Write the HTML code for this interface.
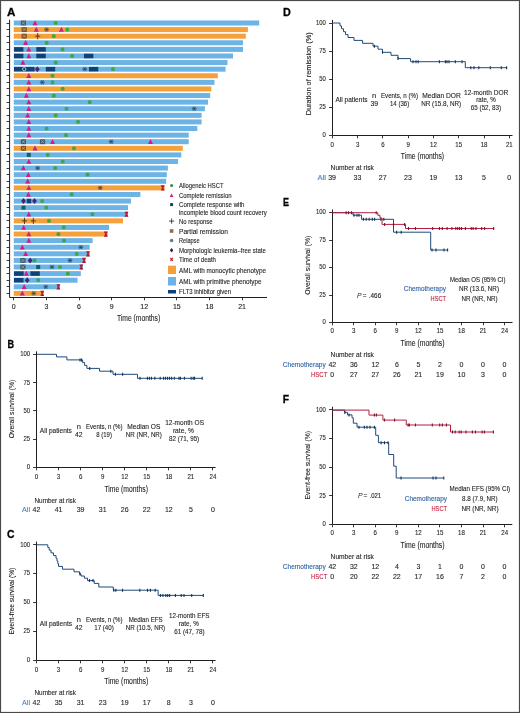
<!DOCTYPE html><html><head><meta charset="utf-8"><style>html,body{margin:0;padding:0;background:#fff;}svg{display:block;font-family:"Liberation Sans",sans-serif;will-change:transform;}</style></head><body>
<svg width="520" height="713" viewBox="0 0 520 713">
<rect x="0" y="0" width="520" height="713" fill="#fff"/>
<text x="6.90" y="16.40" font-size="11.8" fill="#000" textLength="8.40" lengthAdjust="spacingAndGlyphs" font-weight="bold" stroke="#000" stroke-width="0.3">A</text>
<rect x="13.8" y="20.50" width="245.40" height="5.0" fill="#6cb3e6"/>
<rect x="13.8" y="27.09" width="234.10" height="5.0" fill="#f6a03c"/>
<rect x="13.8" y="33.69" width="232.00" height="5.0" fill="#f6a03c"/>
<rect x="13.8" y="40.28" width="229.20" height="5.0" fill="#6cb3e6"/>
<rect x="13.8" y="46.88" width="229.20" height="5.0" fill="#6cb3e6"/>
<rect x="13.8" y="53.48" width="219.20" height="5.0" fill="#6cb3e6"/>
<rect x="13.8" y="60.07" width="213.70" height="5.0" fill="#6cb3e6"/>
<rect x="13.8" y="66.66" width="211.80" height="5.0" fill="#6cb3e6"/>
<rect x="13.8" y="73.26" width="204.00" height="5.0" fill="#f6a03c"/>
<rect x="13.8" y="79.85" width="200.70" height="5.0" fill="#6cb3e6"/>
<rect x="13.8" y="86.45" width="197.50" height="5.0" fill="#f6a03c"/>
<rect x="13.8" y="93.05" width="196.40" height="5.0" fill="#6cb3e6"/>
<rect x="13.8" y="99.64" width="194.20" height="5.0" fill="#6cb3e6"/>
<rect x="13.8" y="106.23" width="191.10" height="5.0" fill="#6cb3e6"/>
<rect x="13.8" y="112.83" width="187.80" height="5.0" fill="#6cb3e6"/>
<rect x="13.8" y="119.42" width="187.80" height="5.0" fill="#6cb3e6"/>
<rect x="13.8" y="126.02" width="183.50" height="5.0" fill="#6cb3e6"/>
<rect x="13.8" y="132.62" width="174.90" height="5.0" fill="#6cb3e6"/>
<rect x="13.8" y="139.21" width="174.90" height="5.0" fill="#6cb3e6"/>
<rect x="13.8" y="145.81" width="169.00" height="5.0" fill="#f6a03c"/>
<rect x="13.8" y="152.40" width="167.50" height="5.0" fill="#6cb3e6"/>
<rect x="13.8" y="159.00" width="164.30" height="5.0" fill="#6cb3e6"/>
<rect x="13.8" y="165.59" width="154.10" height="5.0" fill="#6cb3e6"/>
<rect x="13.8" y="172.19" width="153.00" height="5.0" fill="#6cb3e6"/>
<rect x="13.8" y="178.78" width="152.40" height="5.0" fill="#6cb3e6"/>
<rect x="13.8" y="185.38" width="150.80" height="5.0" fill="#f6a03c"/>
<rect x="13.8" y="191.97" width="126.60" height="5.0" fill="#6cb3e6"/>
<rect x="13.8" y="198.56" width="117.20" height="5.0" fill="#6cb3e6"/>
<rect x="13.8" y="205.16" width="114.20" height="5.0" fill="#6cb3e6"/>
<rect x="13.8" y="211.75" width="114.10" height="5.0" fill="#6cb3e6"/>
<rect x="13.8" y="218.35" width="109.20" height="5.0" fill="#f6a03c"/>
<rect x="13.8" y="224.94" width="95.20" height="5.0" fill="#6cb3e6"/>
<rect x="13.8" y="231.54" width="93.90" height="5.0" fill="#f6a03c"/>
<rect x="13.8" y="238.13" width="78.80" height="5.0" fill="#6cb3e6"/>
<rect x="13.8" y="244.73" width="75.90" height="5.0" fill="#6cb3e6"/>
<rect x="13.8" y="251.32" width="75.90" height="5.0" fill="#6cb3e6"/>
<rect x="13.8" y="257.92" width="71.80" height="5.0" fill="#6cb3e6"/>
<rect x="13.8" y="264.51" width="69.10" height="5.0" fill="#6cb3e6"/>
<rect x="13.8" y="271.11" width="67.00" height="5.0" fill="#6cb3e6"/>
<rect x="13.8" y="277.70" width="63.70" height="5.0" fill="#6cb3e6"/>
<rect x="13.8" y="284.30" width="46.00" height="5.0" fill="#6cb3e6"/>
<rect x="13.8" y="290.89" width="29.80" height="5.0" fill="#f6a03c"/>
<rect x="20.80" y="20.50" width="5.2" height="5" fill="#1a1005" fill-opacity="0.55"/>
<path d="M21.70 21.40 L25.10 24.60 M25.10 21.40 L21.70 24.60" stroke="#ffffff" stroke-opacity="0.4" stroke-width="0.9"/>
<path d="M35.00 20.20 L37.50 25.20 L32.50 25.20 Z" fill="#cf1f86"/>
<rect x="53.85" y="21.15" width="3.7" height="3.7" rx="1.2" fill="#3aa84a"/>
<rect x="21.60" y="27.09" width="5.2" height="5" fill="#1a1005" fill-opacity="0.55"/>
<path d="M22.50 27.99 L25.90 31.20 M25.90 27.99 L22.50 31.20" stroke="#ffffff" stroke-opacity="0.4" stroke-width="0.9"/>
<path d="M36.30 26.79 L38.80 31.79 L33.80 31.79 Z" fill="#cf1f86"/>
<circle cx="46.60" cy="29.59" r="2.1" fill="#2a3c50" fill-opacity="0.3"/>
<path d="M44.00 29.59 H49.20 M45.17 27.38 L48.03 31.80 M48.03 27.38 L45.17 31.80" stroke="#1a2a3a" stroke-opacity="0.5" stroke-width="0.9"/>
<path d="M61.40 26.79 L63.90 31.79 L58.90 31.79 Z" fill="#cf1f86"/>
<rect x="65.45" y="27.74" width="3.7" height="3.7" rx="1.2" fill="#3aa84a"/>
<rect x="21.60" y="33.69" width="5.2" height="5" fill="#1a1005" fill-opacity="0.55"/>
<path d="M22.50 34.59 L25.90 37.79 M25.90 34.59 L22.50 37.79" stroke="#ffffff" stroke-opacity="0.4" stroke-width="0.9"/>
<path d="M35.20 36.19 H40.20 M37.70 32.99 V39.39" stroke="#3a2410" stroke-width="0.8"/>
<rect x="51.95" y="34.34" width="3.7" height="3.7" rx="1.2" fill="#3aa84a"/>
<path d="M25.60 39.98 L28.10 44.98 L23.10 44.98 Z" fill="#cf1f86"/>
<rect x="44.75" y="40.93" width="3.7" height="3.7" rx="1.2" fill="#3aa84a"/>
<rect x="14.00" y="47.13" width="9.40" height="4.5" fill="#10427a"/>
<rect x="36.30" y="47.13" width="9.50" height="4.5" fill="#10427a"/>
<path d="M28.80 46.58 L31.30 51.58 L26.30 51.58 Z" fill="#cf1f86"/>
<rect x="60.65" y="47.53" width="3.7" height="3.7" rx="1.2" fill="#3aa84a"/>
<rect x="14.00" y="53.73" width="9.40" height="4.5" fill="#10427a"/>
<rect x="36.30" y="53.73" width="9.50" height="4.5" fill="#10427a"/>
<rect x="84.00" y="53.73" width="9.40" height="4.5" fill="#10427a"/>
<path d="M28.80 53.18 L31.30 58.18 L26.30 58.18 Z" fill="#cf1f86"/>
<rect x="70.35" y="54.12" width="3.7" height="3.7" rx="1.2" fill="#3aa84a"/>
<path d="M22.90 59.77 L25.40 64.77 L20.40 64.77 Z" fill="#cf1f86"/>
<rect x="53.85" y="60.72" width="3.7" height="3.7" rx="1.2" fill="#3aa84a"/>
<rect x="14.00" y="66.91" width="20.60" height="4.5" fill="#10427a"/>
<rect x="45.80" y="66.91" width="9.40" height="4.5" fill="#10427a"/>
<rect x="88.90" y="66.91" width="9.40" height="4.5" fill="#10427a"/>
<circle cx="24.20" cy="69.16" r="1.7" fill="none" stroke="#d0d8e0" stroke-width="0.8"/>
<path d="M37.30 66.16 L39.70 69.16 L37.30 72.16 L34.90 69.16 Z" fill="#4a2470"/>
<circle cx="84.80" cy="69.16" r="2.1" fill="#2a3c50" fill-opacity="0.3"/>
<path d="M82.20 69.16 H87.40 M83.37 66.95 L86.23 71.37 M86.23 66.95 L83.37 71.37" stroke="#1a2a3a" stroke-opacity="0.5" stroke-width="0.9"/>
<rect x="111.15" y="67.31" width="3.7" height="3.7" rx="1.2" fill="#3aa84a"/>
<path d="M28.80 72.96 L31.30 77.96 L26.30 77.96 Z" fill="#cf1f86"/>
<rect x="50.65" y="73.91" width="3.7" height="3.7" rx="1.2" fill="#3aa84a"/>
<path d="M28.80 79.55 L31.30 84.55 L26.30 84.55 Z" fill="#cf1f86"/>
<circle cx="42.30" cy="82.35" r="2.1" fill="#2a3c50" fill-opacity="0.3"/>
<path d="M39.70 82.35 H44.90 M40.87 80.14 L43.73 84.56 M43.73 80.14 L40.87 84.56" stroke="#1a2a3a" stroke-opacity="0.5" stroke-width="0.9"/>
<rect x="50.65" y="80.50" width="3.7" height="3.7" rx="1.2" fill="#3aa84a"/>
<path d="M28.80 86.15 L31.30 91.15 L26.30 91.15 Z" fill="#cf1f86"/>
<rect x="60.85" y="87.10" width="3.7" height="3.7" rx="1.2" fill="#3aa84a"/>
<path d="M26.40 92.75 L28.90 97.75 L23.90 97.75 Z" fill="#cf1f86"/>
<rect x="51.95" y="93.70" width="3.7" height="3.7" rx="1.2" fill="#3aa84a"/>
<path d="M28.80 99.34 L31.30 104.34 L26.30 104.34 Z" fill="#cf1f86"/>
<rect x="87.85" y="100.29" width="3.7" height="3.7" rx="1.2" fill="#3aa84a"/>
<path d="M28.80 105.94 L31.30 110.94 L26.30 110.94 Z" fill="#cf1f86"/>
<rect x="64.65" y="106.89" width="3.7" height="3.7" rx="1.2" fill="#3aa84a"/>
<circle cx="194.20" cy="108.73" r="2.1" fill="#2a3c50" fill-opacity="0.3"/>
<path d="M191.60 108.73 H196.80 M192.77 106.53 L195.63 110.94 M195.63 106.53 L192.77 110.94" stroke="#1a2a3a" stroke-opacity="0.5" stroke-width="0.9"/>
<path d="M27.70 112.53 L30.20 117.53 L25.20 117.53 Z" fill="#cf1f86"/>
<rect x="53.85" y="113.48" width="3.7" height="3.7" rx="1.2" fill="#3aa84a"/>
<path d="M28.80 119.12 L31.30 124.12 L26.30 124.12 Z" fill="#cf1f86"/>
<rect x="76.15" y="120.08" width="3.7" height="3.7" rx="1.2" fill="#3aa84a"/>
<path d="M28.80 125.72 L31.30 130.72 L26.30 130.72 Z" fill="#cf1f86"/>
<rect x="44.75" y="126.67" width="3.7" height="3.7" rx="1.2" fill="#3aa84a"/>
<path d="M28.80 132.31 L31.30 137.31 L26.30 137.31 Z" fill="#cf1f86"/>
<rect x="64.15" y="133.27" width="3.7" height="3.7" rx="1.2" fill="#3aa84a"/>
<rect x="20.80" y="139.21" width="5.2" height="5" fill="#1a1005" fill-opacity="0.55"/>
<path d="M21.70 140.11 L25.10 143.31 M25.10 140.11 L21.70 143.31" stroke="#ffffff" stroke-opacity="0.4" stroke-width="0.9"/>
<rect x="39.90" y="139.21" width="5.2" height="5" fill="#1a1005" fill-opacity="0.55"/>
<path d="M40.80 140.11 L44.20 143.31 M44.20 140.11 L40.80 143.31" stroke="#ffffff" stroke-opacity="0.4" stroke-width="0.9"/>
<path d="M52.50 138.91 L55.00 143.91 L50.00 143.91 Z" fill="#cf1f86"/>
<circle cx="111.20" cy="141.71" r="2.1" fill="#2a3c50" fill-opacity="0.3"/>
<path d="M108.60 141.71 H113.80 M109.77 139.50 L112.63 143.92 M112.63 139.50 L109.77 143.92" stroke="#1a2a3a" stroke-opacity="0.5" stroke-width="0.9"/>
<path d="M150.50 138.91 L153.00 143.91 L148.00 143.91 Z" fill="#cf1f86"/>
<rect x="20.80" y="145.81" width="5.2" height="5" fill="#1a1005" fill-opacity="0.55"/>
<path d="M21.70 146.71 L25.10 149.91 M25.10 146.71 L21.70 149.91" stroke="#ffffff" stroke-opacity="0.4" stroke-width="0.9"/>
<path d="M35.00 145.50 L37.50 150.50 L32.50 150.50 Z" fill="#cf1f86"/>
<rect x="72.15" y="146.46" width="3.7" height="3.7" rx="1.2" fill="#3aa84a"/>
<rect x="26.80" y="152.90" width="4" height="4" fill="#155e62"/>
<rect x="45.85" y="153.05" width="3.7" height="3.7" rx="1.2" fill="#3aa84a"/>
<path d="M28.80 158.69 L31.30 163.69 L26.30 163.69 Z" fill="#cf1f86"/>
<rect x="60.85" y="159.65" width="3.7" height="3.7" rx="1.2" fill="#3aa84a"/>
<path d="M23.40 165.29 L25.90 170.29 L20.90 170.29 Z" fill="#cf1f86"/>
<circle cx="37.70" cy="168.09" r="2.1" fill="#2a3c50" fill-opacity="0.3"/>
<path d="M35.10 168.09 H40.30 M36.27 165.88 L39.13 170.30 M39.13 165.88 L36.27 170.30" stroke="#1a2a3a" stroke-opacity="0.5" stroke-width="0.9"/>
<rect x="53.35" y="166.24" width="3.7" height="3.7" rx="1.2" fill="#3aa84a"/>
<path d="M28.30 171.88 L30.80 176.88 L25.80 176.88 Z" fill="#cf1f86"/>
<rect x="85.65" y="172.84" width="3.7" height="3.7" rx="1.2" fill="#3aa84a"/>
<path d="M27.70 178.48 L30.20 183.48 L25.20 183.48 Z" fill="#cf1f86"/>
<path d="M28.80 185.07 L31.30 190.07 L26.30 190.07 Z" fill="#cf1f86"/>
<circle cx="100.20" cy="187.88" r="2.1" fill="#2a3c50" fill-opacity="0.3"/>
<path d="M97.60 187.88 H102.80 M98.77 185.66 L101.63 190.09 M101.63 185.66 L98.77 190.09" stroke="#1a2a3a" stroke-opacity="0.5" stroke-width="0.9"/>
<path d="M160.70 185.28 H164.70 L163.40 187.88 L164.70 190.47 H160.70 L162.00 187.88 Z" fill="#b8182e"/>
<path d="M28.40 191.67 L30.90 196.67 L25.90 196.67 Z" fill="#cf1f86"/>
<rect x="69.85" y="192.62" width="3.7" height="3.7" rx="1.2" fill="#3aa84a"/>
<rect x="26.80" y="198.81" width="4.40" height="4.5" fill="#10427a"/>
<path d="M23.50 198.06 L25.90 201.06 L23.50 204.06 L21.10 201.06 Z" fill="#4a2470"/>
<path d="M34.50 198.06 L36.90 201.06 L34.50 204.06 L32.10 201.06 Z" fill="#4a2470"/>
<rect x="40.35" y="199.22" width="3.7" height="3.7" rx="1.2" fill="#3aa84a"/>
<rect x="21.50" y="205.66" width="4" height="4" fill="#155e62"/>
<rect x="44.45" y="205.81" width="3.7" height="3.7" rx="1.2" fill="#3aa84a"/>
<path d="M28.80 211.45 L31.30 216.45 L26.30 216.45 Z" fill="#cf1f86"/>
<rect x="90.55" y="212.41" width="3.7" height="3.7" rx="1.2" fill="#3aa84a"/>
<path d="M124.50 211.66 H128.50 L127.20 214.25 L128.50 216.85 H124.50 L125.80 214.25 Z" fill="#b8182e"/>
<path d="M22.00 220.85 H27.00 M24.50 217.65 V224.05" stroke="#3a2410" stroke-width="0.8"/>
<path d="M30.80 220.85 H35.80 M33.30 217.65 V224.05" stroke="#3a2410" stroke-width="0.8"/>
<rect x="47.15" y="219.00" width="3.7" height="3.7" rx="1.2" fill="#3aa84a"/>
<path d="M23.70 224.64 L26.20 229.64 L21.20 229.64 Z" fill="#cf1f86"/>
<rect x="61.95" y="225.59" width="3.7" height="3.7" rx="1.2" fill="#3aa84a"/>
<path d="M28.80 231.24 L31.30 236.24 L26.30 236.24 Z" fill="#cf1f86"/>
<rect x="56.55" y="232.19" width="3.7" height="3.7" rx="1.2" fill="#3aa84a"/>
<path d="M103.80 231.44 H107.80 L106.50 234.04 L107.80 236.64 H103.80 L105.10 234.04 Z" fill="#b8182e"/>
<path d="M28.80 237.83 L31.30 242.83 L26.30 242.83 Z" fill="#cf1f86"/>
<rect x="62.15" y="238.78" width="3.7" height="3.7" rx="1.2" fill="#3aa84a"/>
<path d="M22.30 244.43 L24.80 249.43 L19.80 249.43 Z" fill="#cf1f86"/>
<circle cx="80.80" cy="247.23" r="2.1" fill="#2a3c50" fill-opacity="0.3"/>
<path d="M78.20 247.23 H83.40 M79.37 245.02 L82.23 249.44 M82.23 245.02 L79.37 249.44" stroke="#1a2a3a" stroke-opacity="0.5" stroke-width="0.9"/>
<path d="M25.60 251.02 L28.10 256.02 L23.10 256.02 Z" fill="#cf1f86"/>
<rect x="74.85" y="251.97" width="3.7" height="3.7" rx="1.2" fill="#3aa84a"/>
<path d="M86.00 251.22 H90.00 L88.70 253.82 L90.00 256.43 H86.00 L87.30 253.82 Z" fill="#b8182e"/>
<rect x="20.30" y="257.92" width="5.2" height="5" fill="#1a1005" fill-opacity="0.55"/>
<path d="M21.20 258.82 L24.60 262.02 M24.60 258.82 L21.20 262.02" stroke="#ffffff" stroke-opacity="0.4" stroke-width="0.9"/>
<path d="M30.20 257.42 L32.60 260.42 L30.20 263.42 L27.80 260.42 Z" fill="#4a2470"/>
<rect x="32.65" y="258.57" width="3.7" height="3.7" rx="1.2" fill="#3aa84a"/>
<circle cx="70.00" cy="260.42" r="2.1" fill="#2a3c50" fill-opacity="0.3"/>
<path d="M67.40 260.42 H72.60 M68.57 258.21 L71.43 262.63 M71.43 258.21 L68.57 262.63" stroke="#1a2a3a" stroke-opacity="0.5" stroke-width="0.9"/>
<path d="M82.00 257.82 H86.00 L84.70 260.42 L86.00 263.02 H82.00 L83.30 260.42 Z" fill="#b8182e"/>
<rect x="20.30" y="264.51" width="5.2" height="5" fill="#1a1005" fill-opacity="0.55"/>
<path d="M21.20 265.41 L24.60 268.62 M24.60 265.41 L21.20 268.62" stroke="#ffffff" stroke-opacity="0.4" stroke-width="0.9"/>
<rect x="36.20" y="265.01" width="4" height="4" fill="#155e62"/>
<circle cx="52.00" cy="267.01" r="2.1" fill="#2a3c50" fill-opacity="0.3"/>
<path d="M49.40 267.01 H54.60 M50.57 264.81 L53.43 269.22 M53.43 264.81 L50.57 269.22" stroke="#1a2a3a" stroke-opacity="0.5" stroke-width="0.9"/>
<rect x="58.15" y="265.16" width="3.7" height="3.7" rx="1.2" fill="#3aa84a"/>
<path d="M79.30 264.41 H83.30 L82.00 267.01 L83.30 269.62 H79.30 L80.60 267.01 Z" fill="#b8182e"/>
<rect x="14.00" y="271.36" width="9.70" height="4.5" fill="#10427a"/>
<rect x="30.40" y="271.36" width="9.40" height="4.5" fill="#10427a"/>
<path d="M26.40 270.81 L28.90 275.81 L23.90 275.81 Z" fill="#cf1f86"/>
<rect x="65.95" y="271.76" width="3.7" height="3.7" rx="1.2" fill="#3aa84a"/>
<rect x="14.00" y="277.95" width="9.50" height="4.5" fill="#10427a"/>
<path d="M27.20 277.20 L29.60 280.20 L27.20 283.20 L24.80 280.20 Z" fill="#4a2470"/>
<rect x="36.35" y="278.35" width="3.7" height="3.7" rx="1.2" fill="#3aa84a"/>
<path d="M24.20 284.00 L26.70 289.00 L21.70 289.00 Z" fill="#cf1f86"/>
<circle cx="45.80" cy="286.80" r="2.1" fill="#2a3c50" fill-opacity="0.3"/>
<path d="M43.20 286.80 H48.40 M44.37 284.59 L47.23 289.01 M47.23 284.59 L44.37 289.01" stroke="#1a2a3a" stroke-opacity="0.5" stroke-width="0.9"/>
<path d="M56.40 284.20 H60.40 L59.10 286.80 L60.40 289.40 H56.40 L57.70 286.80 Z" fill="#b8182e"/>
<path d="M22.30 290.59 L24.80 295.59 L19.80 295.59 Z" fill="#cf1f86"/>
<circle cx="33.70" cy="293.39" r="2.1" fill="#2a3c50" fill-opacity="0.3"/>
<path d="M31.10 293.39 H36.30 M32.27 291.19 L35.13 295.60 M35.13 291.19 L32.27 295.60" stroke="#1a2a3a" stroke-opacity="0.5" stroke-width="0.9"/>
<path d="M40.30 290.79 H44.30 L43.00 293.39 L44.30 296.00 H40.30 L41.60 293.39 Z" fill="#b8182e"/>
<path d="M9.6 19.8 V297.5 H267" fill="none" stroke="#231f20" stroke-width="1"/>
<path d="M6.6 23.50 H9.6 M6.6 29.50 H9.6 M6.6 36.50 H9.6 M6.6 42.50 H9.6 M6.6 49.50 H9.6 M6.6 55.50 H9.6 M6.6 62.50 H9.6 M6.6 69.50 H9.6 M6.6 75.50 H9.6 M6.6 82.50 H9.6 M6.6 88.50 H9.6 M6.6 95.50 H9.6 M6.6 102.50 H9.6 M6.6 108.50 H9.6 M6.6 115.50 H9.6 M6.6 121.50 H9.6 M6.6 128.50 H9.6 M6.6 135.50 H9.6 M6.6 141.50 H9.6 M6.6 148.50 H9.6 M6.6 154.50 H9.6 M6.6 161.50 H9.6 M6.6 168.50 H9.6 M6.6 174.50 H9.6 M6.6 181.50 H9.6 M6.6 187.50 H9.6 M6.6 194.50 H9.6 M6.6 201.50 H9.6 M6.6 207.50 H9.6 M6.6 214.50 H9.6 M6.6 220.50 H9.6 M6.6 227.50 H9.6 M6.6 234.50 H9.6 M6.6 240.50 H9.6 M6.6 247.50 H9.6 M6.6 253.50 H9.6 M6.6 260.50 H9.6 M6.6 267.50 H9.6 M6.6 273.50 H9.6 M6.6 280.50 H9.6 M6.6 286.50 H9.6 M6.6 293.50 H9.6 " stroke="#231f20" stroke-width="0.9"/>
<path d="M13.50 297.5 V300.3 M46.50 297.5 V300.3 M79.50 297.5 V300.3 M111.50 297.5 V300.3 M144.50 297.5 V300.3 M176.50 297.5 V300.3 M209.50 297.5 V300.3 M242.50 297.5 V300.3 " stroke="#231f20" stroke-width="0.9"/>
<text x="13.80" y="309.00" font-size="7" fill="#231f20" stroke="#231f20" stroke-width="0.12" text-anchor="middle" >0</text>
<text x="46.41" y="309.00" font-size="7" fill="#231f20" stroke="#231f20" stroke-width="0.12" text-anchor="middle" >3</text>
<text x="79.02" y="309.00" font-size="7" fill="#231f20" stroke="#231f20" stroke-width="0.12" text-anchor="middle" >6</text>
<text x="111.63" y="309.00" font-size="7" fill="#231f20" stroke="#231f20" stroke-width="0.12" text-anchor="middle" >9</text>
<text x="144.24" y="309.00" font-size="7" fill="#231f20" stroke="#231f20" stroke-width="0.12" text-anchor="middle" >12</text>
<text x="176.85" y="309.00" font-size="7" fill="#231f20" stroke="#231f20" stroke-width="0.12" text-anchor="middle" >15</text>
<text x="209.46" y="309.00" font-size="7" fill="#231f20" stroke="#231f20" stroke-width="0.12" text-anchor="middle" >18</text>
<text x="242.07" y="309.00" font-size="7" fill="#231f20" stroke="#231f20" stroke-width="0.12" text-anchor="middle" >21</text>
<text x="116.90" y="321.30" font-size="9.4" fill="#231f20" stroke="#231f20" stroke-width="0.12" textLength="43.30" lengthAdjust="spacingAndGlyphs" >Time (months)</text>
<circle cx="171.6" cy="185.6" r="1.5" fill="#2f8a40"/>
<text x="179.00" y="188.30" font-size="7.4" fill="#231f20" stroke="#231f20" stroke-width="0.12" textLength="44.50" lengthAdjust="spacingAndGlyphs" >Allogeneic HSCT</text>
<path d="M171.6 193.5 L173.5 197.1 L169.7 197.1 Z" fill="#cf1f86"/>
<text x="179.00" y="198.20" font-size="7.4" fill="#231f20" stroke="#231f20" stroke-width="0.12" textLength="52.50" lengthAdjust="spacingAndGlyphs" >Complete remission</text>
<rect x="170.1" y="203.1" width="3" height="3" fill="#1a4a40"/>
<text x="179.00" y="207.30" font-size="7.4" fill="#231f20" stroke="#231f20" stroke-width="0.12" textLength="65.50" lengthAdjust="spacingAndGlyphs" >Complete response with</text>
<text x="179.00" y="215.10" font-size="7.4" fill="#231f20" stroke="#231f20" stroke-width="0.12" textLength="87.80" lengthAdjust="spacingAndGlyphs" >incomplete blood count recovery</text>
<path d="M169.0 221.1 H174.2 M171.6 218.5 V223.7" stroke="#231f20" stroke-width="0.8"/>
<text x="179.00" y="223.80" font-size="7.4" fill="#231f20" stroke="#231f20" stroke-width="0.12" textLength="33.50" lengthAdjust="spacingAndGlyphs" >No response</text>
<rect x="169.79999999999998" y="229.2" width="3.6" height="3.6" fill="#86705a"/>
<text x="179.00" y="233.70" font-size="7.4" fill="#231f20" stroke="#231f20" stroke-width="0.12" textLength="49.00" lengthAdjust="spacingAndGlyphs" >Partial remission</text>
<circle cx="171.6" cy="240.5" r="1.8" fill="#687a86"/>
<text x="179.00" y="243.20" font-size="7.4" fill="#231f20" stroke="#231f20" stroke-width="0.12" textLength="20.50" lengthAdjust="spacingAndGlyphs" >Relapse</text>
<path d="M171.6 248.0 L173.29999999999998 250.2 L171.6 252.39999999999998 L169.9 250.2 Z" fill="#3a1a50"/>
<text x="179.00" y="252.90" font-size="7.4" fill="#231f20" stroke="#231f20" stroke-width="0.12" textLength="86.80" lengthAdjust="spacingAndGlyphs" >Morphologic leukemia–free state</text>
<path d="M170.4 257.8 L172.79999999999998 260.8 M172.79999999999998 257.8 L170.4 260.8" stroke="#b01a30" stroke-width="1.1"/>
<text x="179.00" y="262.00" font-size="7.4" fill="#231f20" stroke="#231f20" stroke-width="0.12" textLength="37.00" lengthAdjust="spacingAndGlyphs" >Time of death</text>
<rect x="168" y="265.7" width="8" height="8.3" fill="#f6a03c"/>
<text x="179.00" y="272.60" font-size="7.2" fill="#231f20" stroke="#231f20" stroke-width="0.12" textLength="87.00" lengthAdjust="spacingAndGlyphs" >AML with monocytic phenotype</text>
<rect x="168" y="277" width="8" height="8.5" fill="#6cb3e6"/>
<text x="179.00" y="283.80" font-size="7.2" fill="#231f20" stroke="#231f20" stroke-width="0.12" textLength="82.50" lengthAdjust="spacingAndGlyphs" >AML with primitive phenotype</text>
<rect x="168" y="290" width="8" height="3.5" fill="#10427a"/>
<text x="179.00" y="294.40" font-size="7.2" fill="#231f20" stroke="#231f20" stroke-width="0.12" textLength="52.00" lengthAdjust="spacingAndGlyphs" >FLT3 inhibitor given</text>
<text x="283.10" y="16.20" font-size="11.8" fill="#000" textLength="7.80" lengthAdjust="spacingAndGlyphs" font-weight="bold" stroke="#000" stroke-width="0.3">D</text>
<path d="M332.50 20.00 V135.50 H512.50" fill="none" stroke="#231f20" stroke-width="1"/>
<path d="M329.10 135.50 H332.50 M329.10 107.50 H332.50 M329.10 79.50 H332.50 M329.10 51.50 H332.50 M329.10 23.50 H332.50 M332.50 135.50 V138.30 M357.50 135.50 V138.30 M382.50 135.50 V138.30 M408.50 135.50 V138.30 M433.50 135.50 V138.30 M458.50 135.50 V138.30 M484.50 135.50 V138.30 M509.50 135.50 V138.30 " stroke="#231f20" stroke-width="0.9"/>
<text x="325.80" y="137.40" font-size="8" fill="#231f20" stroke="#231f20" stroke-width="0.12" text-anchor="end" textLength="3.30" lengthAdjust="spacingAndGlyphs" >0</text>
<text x="325.80" y="109.28" font-size="8" fill="#231f20" stroke="#231f20" stroke-width="0.12" text-anchor="end" textLength="6.60" lengthAdjust="spacingAndGlyphs" >25</text>
<text x="325.80" y="81.15" font-size="8" fill="#231f20" stroke="#231f20" stroke-width="0.12" text-anchor="end" textLength="6.60" lengthAdjust="spacingAndGlyphs" >50</text>
<text x="325.80" y="53.02" font-size="8" fill="#231f20" stroke="#231f20" stroke-width="0.12" text-anchor="end" textLength="6.60" lengthAdjust="spacingAndGlyphs" >75</text>
<text x="325.80" y="24.90" font-size="8" fill="#231f20" stroke="#231f20" stroke-width="0.12" text-anchor="end" textLength="9.90" lengthAdjust="spacingAndGlyphs" >100</text>
<text x="332.30" y="146.60" font-size="8" fill="#231f20" stroke="#231f20" stroke-width="0.12" text-anchor="middle" textLength="3.40" lengthAdjust="spacingAndGlyphs" >0</text>
<text x="357.59" y="146.60" font-size="8" fill="#231f20" stroke="#231f20" stroke-width="0.12" text-anchor="middle" textLength="3.40" lengthAdjust="spacingAndGlyphs" >3</text>
<text x="382.88" y="146.60" font-size="8" fill="#231f20" stroke="#231f20" stroke-width="0.12" text-anchor="middle" textLength="3.40" lengthAdjust="spacingAndGlyphs" >6</text>
<text x="408.17" y="146.60" font-size="8" fill="#231f20" stroke="#231f20" stroke-width="0.12" text-anchor="middle" textLength="3.40" lengthAdjust="spacingAndGlyphs" >9</text>
<text x="433.46" y="146.60" font-size="8" fill="#231f20" stroke="#231f20" stroke-width="0.12" text-anchor="middle" textLength="6.80" lengthAdjust="spacingAndGlyphs" >12</text>
<text x="458.75" y="146.60" font-size="8" fill="#231f20" stroke="#231f20" stroke-width="0.12" text-anchor="middle" textLength="6.80" lengthAdjust="spacingAndGlyphs" >15</text>
<text x="484.04" y="146.60" font-size="8" fill="#231f20" stroke="#231f20" stroke-width="0.12" text-anchor="middle" textLength="6.80" lengthAdjust="spacingAndGlyphs" >18</text>
<text x="509.33" y="146.60" font-size="8" fill="#231f20" stroke="#231f20" stroke-width="0.12" text-anchor="middle" textLength="6.80" lengthAdjust="spacingAndGlyphs" >21</text>
<text transform="translate(311.30,73.80) rotate(-90)" font-size="7.8" fill="#231f20" stroke="#231f20" stroke-width="0.12" text-anchor="middle" textLength="83.00" lengthAdjust="spacingAndGlyphs" >Duration of remission (%)</text>
<text x="400.80" y="159.00" font-size="9.4" fill="#231f20" stroke="#231f20" stroke-width="0.12" textLength="43.20" lengthAdjust="spacingAndGlyphs" >Time (months)</text>
<path d="M332.00 23.00 H340.00 V25.90 H341.50 V28.80 H343.50 V31.70 H345.50 V34.60 H348.00 V37.50 H354.00 V40.40 H362.60 V43.30 H373.00 V46.20 H378.00 V49.20 H382.50 V52.30 H391.00 V55.30 H398.00 V58.60 H410.60 V61.70 H465.30 V67.70 H506.60" fill="none" stroke="#1f4b7a" stroke-width="1.0"/>
<path d="M374.40 44.70 V47.70 M382.50 50.80 V53.80 M398.00 57.10 V60.10 M413.00 60.20 V63.20 M416.00 60.20 V63.20 M418.20 60.20 V63.20 M439.40 60.20 V63.20 M445.40 60.20 V63.20 M447.00 60.20 V63.20 M449.00 60.20 V63.20 M455.30 60.20 V63.20 M462.00 60.20 V63.20 M470.80 66.20 V69.20 M474.00 66.20 V69.20 M478.80 66.20 V69.20 M490.30 66.20 V69.20 M501.30 66.20 V69.20 M506.60 66.20 V69.20 " stroke="#12345a" stroke-width="1.1"/>
<text x="335.40" y="102.10" font-size="7.5" fill="#231f20" stroke="#231f20" stroke-width="0.12" textLength="32.10" lengthAdjust="spacingAndGlyphs" >All patients</text>
<text x="374.20" y="98.30" font-size="7.5" fill="#231f20" stroke="#231f20" stroke-width="0.12" text-anchor="middle" >n</text>
<text x="374.20" y="106.40" font-size="7.5" fill="#231f20" stroke="#231f20" stroke-width="0.12" text-anchor="middle" textLength="7.60" lengthAdjust="spacingAndGlyphs" >39</text>
<text x="381.00" y="98.30" font-size="7.5" fill="#231f20" stroke="#231f20" stroke-width="0.12" textLength="37.00" lengthAdjust="spacingAndGlyphs" >Events, n (%)</text>
<text x="390.00" y="106.40" font-size="7.5" fill="#231f20" stroke="#231f20" stroke-width="0.12" textLength="19.20" lengthAdjust="spacingAndGlyphs" >14 (36)</text>
<text x="422.30" y="98.10" font-size="7.5" fill="#231f20" stroke="#231f20" stroke-width="0.12" textLength="38.50" lengthAdjust="spacingAndGlyphs" >Median DOR</text>
<text x="421.20" y="106.20" font-size="7.5" fill="#231f20" stroke="#231f20" stroke-width="0.12" textLength="40.00" lengthAdjust="spacingAndGlyphs" >NR (15.8, NR)</text>
<text x="464.00" y="94.70" font-size="7.5" fill="#231f20" stroke="#231f20" stroke-width="0.12" textLength="44.30" lengthAdjust="spacingAndGlyphs" >12-month DOR</text>
<text x="476.20" y="101.90" font-size="7.5" fill="#231f20" stroke="#231f20" stroke-width="0.12" textLength="19.60" lengthAdjust="spacingAndGlyphs" >rate, %</text>
<text x="470.80" y="110.00" font-size="7.5" fill="#231f20" stroke="#231f20" stroke-width="0.12" textLength="30.40" lengthAdjust="spacingAndGlyphs" >65 (52, 83)</text>
<text x="330.60" y="170.20" font-size="7.5" fill="#231f20" stroke="#231f20" stroke-width="0.12" textLength="43.20" lengthAdjust="spacingAndGlyphs" >Number at risk</text>
<text x="317.50" y="179.70" font-size="7.5" fill="#4f7fba" stroke="#4f7fba" stroke-width="0.12" textLength="8.50" lengthAdjust="spacingAndGlyphs" >All</text>
<text x="332.10" y="179.80" font-size="8" fill="#231f20" stroke="#231f20" stroke-width="0.12" text-anchor="middle" textLength="7.80" lengthAdjust="spacingAndGlyphs" >39</text>
<text x="357.40" y="179.80" font-size="8" fill="#231f20" stroke="#231f20" stroke-width="0.12" text-anchor="middle" textLength="7.80" lengthAdjust="spacingAndGlyphs" >33</text>
<text x="382.70" y="179.80" font-size="8" fill="#231f20" stroke="#231f20" stroke-width="0.12" text-anchor="middle" textLength="7.80" lengthAdjust="spacingAndGlyphs" >27</text>
<text x="408.00" y="179.80" font-size="8" fill="#231f20" stroke="#231f20" stroke-width="0.12" text-anchor="middle" textLength="7.80" lengthAdjust="spacingAndGlyphs" >23</text>
<text x="433.30" y="179.80" font-size="8" fill="#231f20" stroke="#231f20" stroke-width="0.12" text-anchor="middle" textLength="7.80" lengthAdjust="spacingAndGlyphs" >19</text>
<text x="458.60" y="179.80" font-size="8" fill="#231f20" stroke="#231f20" stroke-width="0.12" text-anchor="middle" textLength="7.80" lengthAdjust="spacingAndGlyphs" >13</text>
<text x="483.90" y="179.80" font-size="8" fill="#231f20" stroke="#231f20" stroke-width="0.12" text-anchor="middle" textLength="3.90" lengthAdjust="spacingAndGlyphs" >5</text>
<text x="509.20" y="179.80" font-size="8" fill="#231f20" stroke="#231f20" stroke-width="0.12" text-anchor="middle" textLength="3.90" lengthAdjust="spacingAndGlyphs" >0</text>
<text x="7.50" y="347.90" font-size="11.8" fill="#000" textLength="6.60" lengthAdjust="spacingAndGlyphs" font-weight="bold" stroke="#000" stroke-width="0.3">B</text>
<path d="M36.50 351.30 V467.50 H215.60" fill="none" stroke="#231f20" stroke-width="1"/>
<path d="M33.10 467.50 H36.50 M33.10 439.50 H36.50 M33.10 410.50 H36.50 M33.10 382.50 H36.50 M33.10 354.50 H36.50 M36.50 467.50 V470.30 M58.50 467.50 V470.30 M80.50 467.50 V470.30 M102.50 467.50 V470.30 M124.50 467.50 V470.30 M146.50 467.50 V470.30 M168.50 467.50 V470.30 M190.50 467.50 V470.30 M212.50 467.50 V470.30 " stroke="#231f20" stroke-width="0.9"/>
<text x="30.10" y="469.40" font-size="8" fill="#231f20" stroke="#231f20" stroke-width="0.12" text-anchor="end" textLength="3.30" lengthAdjust="spacingAndGlyphs" >0</text>
<text x="30.10" y="441.10" font-size="8" fill="#231f20" stroke="#231f20" stroke-width="0.12" text-anchor="end" textLength="6.60" lengthAdjust="spacingAndGlyphs" >25</text>
<text x="30.10" y="412.80" font-size="8" fill="#231f20" stroke="#231f20" stroke-width="0.12" text-anchor="end" textLength="6.60" lengthAdjust="spacingAndGlyphs" >50</text>
<text x="30.10" y="384.50" font-size="8" fill="#231f20" stroke="#231f20" stroke-width="0.12" text-anchor="end" textLength="6.60" lengthAdjust="spacingAndGlyphs" >75</text>
<text x="30.10" y="356.20" font-size="8" fill="#231f20" stroke="#231f20" stroke-width="0.12" text-anchor="end" textLength="9.90" lengthAdjust="spacingAndGlyphs" >100</text>
<text x="36.50" y="479.00" font-size="8" fill="#231f20" stroke="#231f20" stroke-width="0.12" text-anchor="middle" textLength="3.40" lengthAdjust="spacingAndGlyphs" >0</text>
<text x="58.55" y="479.00" font-size="8" fill="#231f20" stroke="#231f20" stroke-width="0.12" text-anchor="middle" textLength="3.40" lengthAdjust="spacingAndGlyphs" >3</text>
<text x="80.60" y="479.00" font-size="8" fill="#231f20" stroke="#231f20" stroke-width="0.12" text-anchor="middle" textLength="3.40" lengthAdjust="spacingAndGlyphs" >6</text>
<text x="102.65" y="479.00" font-size="8" fill="#231f20" stroke="#231f20" stroke-width="0.12" text-anchor="middle" textLength="3.40" lengthAdjust="spacingAndGlyphs" >9</text>
<text x="124.70" y="479.00" font-size="8" fill="#231f20" stroke="#231f20" stroke-width="0.12" text-anchor="middle" textLength="6.80" lengthAdjust="spacingAndGlyphs" >12</text>
<text x="146.75" y="479.00" font-size="8" fill="#231f20" stroke="#231f20" stroke-width="0.12" text-anchor="middle" textLength="6.80" lengthAdjust="spacingAndGlyphs" >15</text>
<text x="168.80" y="479.00" font-size="8" fill="#231f20" stroke="#231f20" stroke-width="0.12" text-anchor="middle" textLength="6.80" lengthAdjust="spacingAndGlyphs" >18</text>
<text x="190.85" y="479.00" font-size="8" fill="#231f20" stroke="#231f20" stroke-width="0.12" text-anchor="middle" textLength="6.80" lengthAdjust="spacingAndGlyphs" >21</text>
<text x="212.90" y="479.00" font-size="8" fill="#231f20" stroke="#231f20" stroke-width="0.12" text-anchor="middle" textLength="6.80" lengthAdjust="spacingAndGlyphs" >24</text>
<text transform="translate(13.90,409.00) rotate(-90)" font-size="7.8" fill="#231f20" stroke="#231f20" stroke-width="0.12" text-anchor="middle" textLength="58.30" lengthAdjust="spacingAndGlyphs" >Overall survival (%)</text>
<text x="104.40" y="491.50" font-size="9.4" fill="#231f20" stroke="#231f20" stroke-width="0.12" textLength="43.50" lengthAdjust="spacingAndGlyphs" >Time (months)</text>
<path d="M37.00 354.30 H56.50 V356.90 H66.90 V359.90 H82.60 V362.60 H84.60 V365.40 H86.90 V368.40 H99.50 V371.20 H113.00 V374.30 H137.50 V378.30 H202.20" fill="none" stroke="#1f4b7a" stroke-width="1.0"/>
<path d="M80.00 358.40 V361.40 M81.50 358.40 V361.40 M89.70 366.90 V369.90 M110.80 369.70 V372.70 M115.40 372.80 V375.80 M122.60 372.80 V375.80 M140.00 376.80 V379.80 M147.40 376.80 V379.80 M149.40 376.80 V379.80 M151.40 376.80 V379.80 M154.80 376.80 V379.80 M160.20 376.80 V379.80 M163.60 376.80 V379.80 M165.60 376.80 V379.80 M167.60 376.80 V379.80 M169.60 376.80 V379.80 M171.60 376.80 V379.80 M174.30 376.80 V379.80 M179.00 376.80 V379.80 M180.40 376.80 V379.80 M184.40 376.80 V379.80 M191.10 376.80 V379.80 M193.20 376.80 V379.80 M194.50 376.80 V379.80 M202.20 376.80 V379.80 " stroke="#12345a" stroke-width="1.1"/>
<text x="39.80" y="433.10" font-size="7.5" fill="#231f20" stroke="#231f20" stroke-width="0.12" textLength="32.10" lengthAdjust="spacingAndGlyphs" >All patients</text>
<text x="78.80" y="428.70" font-size="7.5" fill="#231f20" stroke="#231f20" stroke-width="0.12" text-anchor="middle" >n</text>
<text x="78.80" y="436.50" font-size="7.5" fill="#231f20" stroke="#231f20" stroke-width="0.12" text-anchor="middle" textLength="7.60" lengthAdjust="spacingAndGlyphs" >42</text>
<text x="86.00" y="428.70" font-size="7.5" fill="#231f20" stroke="#231f20" stroke-width="0.12" textLength="36.50" lengthAdjust="spacingAndGlyphs" >Events, n (%)</text>
<text x="96.20" y="436.50" font-size="7.5" fill="#231f20" stroke="#231f20" stroke-width="0.12" textLength="15.70" lengthAdjust="spacingAndGlyphs" >8 (19)</text>
<text x="127.30" y="429.10" font-size="7.5" fill="#231f20" stroke="#231f20" stroke-width="0.12" textLength="33.10" lengthAdjust="spacingAndGlyphs" >Median OS</text>
<text x="125.80" y="436.80" font-size="7.5" fill="#231f20" stroke="#231f20" stroke-width="0.12" textLength="36.10" lengthAdjust="spacingAndGlyphs" >NR (NR, NR)</text>
<text x="165.20" y="425.30" font-size="7.5" fill="#231f20" stroke="#231f20" stroke-width="0.12" textLength="38.80" lengthAdjust="spacingAndGlyphs" >12-month OS</text>
<text x="172.90" y="433.00" font-size="7.5" fill="#231f20" stroke="#231f20" stroke-width="0.12" textLength="21.10" lengthAdjust="spacingAndGlyphs" >rate, %</text>
<text x="169.00" y="440.70" font-size="7.5" fill="#231f20" stroke="#231f20" stroke-width="0.12" textLength="30.20" lengthAdjust="spacingAndGlyphs" >82 (71, 95)</text>
<text x="34.50" y="502.70" font-size="7.5" fill="#231f20" stroke="#231f20" stroke-width="0.12" textLength="41.50" lengthAdjust="spacingAndGlyphs" >Number at risk</text>
<text x="22.00" y="511.60" font-size="7.5" fill="#4f7fba" stroke="#4f7fba" stroke-width="0.12" textLength="8.00" lengthAdjust="spacingAndGlyphs" >All</text>
<text x="36.50" y="511.70" font-size="8" fill="#231f20" stroke="#231f20" stroke-width="0.12" text-anchor="middle" textLength="7.80" lengthAdjust="spacingAndGlyphs" >42</text>
<text x="58.55" y="511.70" font-size="8" fill="#231f20" stroke="#231f20" stroke-width="0.12" text-anchor="middle" textLength="7.80" lengthAdjust="spacingAndGlyphs" >41</text>
<text x="80.60" y="511.70" font-size="8" fill="#231f20" stroke="#231f20" stroke-width="0.12" text-anchor="middle" textLength="7.80" lengthAdjust="spacingAndGlyphs" >39</text>
<text x="102.65" y="511.70" font-size="8" fill="#231f20" stroke="#231f20" stroke-width="0.12" text-anchor="middle" textLength="7.80" lengthAdjust="spacingAndGlyphs" >31</text>
<text x="124.70" y="511.70" font-size="8" fill="#231f20" stroke="#231f20" stroke-width="0.12" text-anchor="middle" textLength="7.80" lengthAdjust="spacingAndGlyphs" >26</text>
<text x="146.75" y="511.70" font-size="8" fill="#231f20" stroke="#231f20" stroke-width="0.12" text-anchor="middle" textLength="7.80" lengthAdjust="spacingAndGlyphs" >22</text>
<text x="168.80" y="511.70" font-size="8" fill="#231f20" stroke="#231f20" stroke-width="0.12" text-anchor="middle" textLength="7.80" lengthAdjust="spacingAndGlyphs" >12</text>
<text x="190.85" y="511.70" font-size="8" fill="#231f20" stroke="#231f20" stroke-width="0.12" text-anchor="middle" textLength="3.90" lengthAdjust="spacingAndGlyphs" >5</text>
<text x="212.90" y="511.70" font-size="8" fill="#231f20" stroke="#231f20" stroke-width="0.12" text-anchor="middle" textLength="3.90" lengthAdjust="spacingAndGlyphs" >0</text>
<text x="6.90" y="538.10" font-size="11.8" fill="#000" textLength="7.50" lengthAdjust="spacingAndGlyphs" font-weight="bold" stroke="#000" stroke-width="0.3">C</text>
<path d="M36.50 541.60 V660.50 H215.60" fill="none" stroke="#231f20" stroke-width="1"/>
<path d="M33.10 660.50 H36.50 M33.10 631.50 H36.50 M33.10 602.50 H36.50 M33.10 573.50 H36.50 M33.10 544.50 H36.50 M36.50 660.50 V663.30 M58.50 660.50 V663.30 M80.50 660.50 V663.30 M102.50 660.50 V663.30 M124.50 660.50 V663.30 M146.50 660.50 V663.30 M168.50 660.50 V663.30 M190.50 660.50 V663.30 M212.50 660.50 V663.30 " stroke="#231f20" stroke-width="0.9"/>
<text x="30.10" y="662.40" font-size="8" fill="#231f20" stroke="#231f20" stroke-width="0.12" text-anchor="end" textLength="3.30" lengthAdjust="spacingAndGlyphs" >0</text>
<text x="30.10" y="633.42" font-size="8" fill="#231f20" stroke="#231f20" stroke-width="0.12" text-anchor="end" textLength="6.60" lengthAdjust="spacingAndGlyphs" >25</text>
<text x="30.10" y="604.45" font-size="8" fill="#231f20" stroke="#231f20" stroke-width="0.12" text-anchor="end" textLength="6.60" lengthAdjust="spacingAndGlyphs" >50</text>
<text x="30.10" y="575.48" font-size="8" fill="#231f20" stroke="#231f20" stroke-width="0.12" text-anchor="end" textLength="6.60" lengthAdjust="spacingAndGlyphs" >75</text>
<text x="30.10" y="546.50" font-size="8" fill="#231f20" stroke="#231f20" stroke-width="0.12" text-anchor="end" textLength="9.90" lengthAdjust="spacingAndGlyphs" >100</text>
<text x="36.50" y="671.60" font-size="8" fill="#231f20" stroke="#231f20" stroke-width="0.12" text-anchor="middle" textLength="3.40" lengthAdjust="spacingAndGlyphs" >0</text>
<text x="58.55" y="671.60" font-size="8" fill="#231f20" stroke="#231f20" stroke-width="0.12" text-anchor="middle" textLength="3.40" lengthAdjust="spacingAndGlyphs" >3</text>
<text x="80.60" y="671.60" font-size="8" fill="#231f20" stroke="#231f20" stroke-width="0.12" text-anchor="middle" textLength="3.40" lengthAdjust="spacingAndGlyphs" >6</text>
<text x="102.65" y="671.60" font-size="8" fill="#231f20" stroke="#231f20" stroke-width="0.12" text-anchor="middle" textLength="3.40" lengthAdjust="spacingAndGlyphs" >9</text>
<text x="124.70" y="671.60" font-size="8" fill="#231f20" stroke="#231f20" stroke-width="0.12" text-anchor="middle" textLength="6.80" lengthAdjust="spacingAndGlyphs" >12</text>
<text x="146.75" y="671.60" font-size="8" fill="#231f20" stroke="#231f20" stroke-width="0.12" text-anchor="middle" textLength="6.80" lengthAdjust="spacingAndGlyphs" >15</text>
<text x="168.80" y="671.60" font-size="8" fill="#231f20" stroke="#231f20" stroke-width="0.12" text-anchor="middle" textLength="6.80" lengthAdjust="spacingAndGlyphs" >18</text>
<text x="190.85" y="671.60" font-size="8" fill="#231f20" stroke="#231f20" stroke-width="0.12" text-anchor="middle" textLength="6.80" lengthAdjust="spacingAndGlyphs" >21</text>
<text x="212.90" y="671.60" font-size="8" fill="#231f20" stroke="#231f20" stroke-width="0.12" text-anchor="middle" textLength="6.80" lengthAdjust="spacingAndGlyphs" >24</text>
<text transform="translate(13.90,601.10) rotate(-90)" font-size="7.8" fill="#231f20" stroke="#231f20" stroke-width="0.12" text-anchor="middle" textLength="66.60" lengthAdjust="spacingAndGlyphs" >Event-free survival (%)</text>
<text x="104.20" y="684.15" font-size="9.4" fill="#231f20" stroke="#231f20" stroke-width="0.12" textLength="44.00" lengthAdjust="spacingAndGlyphs" >Time (months)</text>
<path d="M37.00 544.80 H47.80 V547.50 H49.20 V550.20 H51.00 V552.90 H53.50 V555.60 H56.00 V558.30 H57.00 V561.00 H57.80 V563.70 H58.50 V566.40 H62.50 V569.20 H74.00 V571.80 H79.50 V574.00 H81.00 V576.00 H84.40 V578.20 H87.50 V580.60 H94.20 V583.40 H98.80 V587.00 H113.30 V590.20 H158.10 V595.40 H203.30" fill="none" stroke="#1f4b7a" stroke-width="1.0"/>
<path d="M80.00 572.50 V575.50 M89.50 579.10 V582.10 M93.00 579.10 V582.10 M113.80 588.70 V591.70 M115.80 588.70 V591.70 M122.50 588.70 V591.70 M139.80 588.70 V591.70 M147.50 588.70 V591.70 M150.40 588.70 V591.70 M155.20 588.70 V591.70 M160.40 593.90 V596.90 M162.90 593.90 V596.90 M165.80 593.90 V596.90 M167.70 593.90 V596.90 M169.60 593.90 V596.90 M175.40 593.90 V596.90 M181.20 593.90 V596.90 M184.00 593.90 V596.90 M191.70 593.90 V596.90 M203.30 593.90 V596.90 " stroke="#12345a" stroke-width="1.1"/>
<text x="39.80" y="626.40" font-size="7.5" fill="#231f20" stroke="#231f20" stroke-width="0.12" textLength="32.20" lengthAdjust="spacingAndGlyphs" >All patients</text>
<text x="78.80" y="622.10" font-size="7.5" fill="#231f20" stroke="#231f20" stroke-width="0.12" text-anchor="middle" >n</text>
<text x="78.80" y="629.80" font-size="7.5" fill="#231f20" stroke="#231f20" stroke-width="0.12" text-anchor="middle" textLength="7.60" lengthAdjust="spacingAndGlyphs" >42</text>
<text x="86.00" y="622.10" font-size="7.5" fill="#231f20" stroke="#231f20" stroke-width="0.12" textLength="36.50" lengthAdjust="spacingAndGlyphs" >Events, n (%)</text>
<text x="94.20" y="629.80" font-size="7.5" fill="#231f20" stroke="#231f20" stroke-width="0.12" textLength="19.60" lengthAdjust="spacingAndGlyphs" >17 (40)</text>
<text x="128.70" y="622.40" font-size="7.5" fill="#231f20" stroke="#231f20" stroke-width="0.12" textLength="34.00" lengthAdjust="spacingAndGlyphs" >Median EFS</text>
<text x="125.80" y="629.70" font-size="7.5" fill="#231f20" stroke="#231f20" stroke-width="0.12" textLength="39.40" lengthAdjust="spacingAndGlyphs" >NR (10.5, NR)</text>
<text x="169.00" y="618.20" font-size="7.5" fill="#231f20" stroke="#231f20" stroke-width="0.12" textLength="40.40" lengthAdjust="spacingAndGlyphs" >12-month EFS</text>
<text x="178.70" y="625.90" font-size="7.5" fill="#231f20" stroke="#231f20" stroke-width="0.12" textLength="20.10" lengthAdjust="spacingAndGlyphs" >rate, %</text>
<text x="174.20" y="633.50" font-size="7.5" fill="#231f20" stroke="#231f20" stroke-width="0.12" textLength="30.40" lengthAdjust="spacingAndGlyphs" >61 (47, 78)</text>
<text x="34.50" y="695.20" font-size="7.5" fill="#231f20" stroke="#231f20" stroke-width="0.12" textLength="41.50" lengthAdjust="spacingAndGlyphs" >Number at risk</text>
<text x="22.00" y="704.90" font-size="7.5" fill="#4f7fba" stroke="#4f7fba" stroke-width="0.12" textLength="8.00" lengthAdjust="spacingAndGlyphs" >All</text>
<text x="36.50" y="705.00" font-size="8" fill="#231f20" stroke="#231f20" stroke-width="0.12" text-anchor="middle" textLength="7.80" lengthAdjust="spacingAndGlyphs" >42</text>
<text x="58.55" y="705.00" font-size="8" fill="#231f20" stroke="#231f20" stroke-width="0.12" text-anchor="middle" textLength="7.80" lengthAdjust="spacingAndGlyphs" >35</text>
<text x="80.60" y="705.00" font-size="8" fill="#231f20" stroke="#231f20" stroke-width="0.12" text-anchor="middle" textLength="7.80" lengthAdjust="spacingAndGlyphs" >31</text>
<text x="102.65" y="705.00" font-size="8" fill="#231f20" stroke="#231f20" stroke-width="0.12" text-anchor="middle" textLength="7.80" lengthAdjust="spacingAndGlyphs" >23</text>
<text x="124.70" y="705.00" font-size="8" fill="#231f20" stroke="#231f20" stroke-width="0.12" text-anchor="middle" textLength="7.80" lengthAdjust="spacingAndGlyphs" >19</text>
<text x="146.75" y="705.00" font-size="8" fill="#231f20" stroke="#231f20" stroke-width="0.12" text-anchor="middle" textLength="7.80" lengthAdjust="spacingAndGlyphs" >17</text>
<text x="168.80" y="705.00" font-size="8" fill="#231f20" stroke="#231f20" stroke-width="0.12" text-anchor="middle" textLength="3.90" lengthAdjust="spacingAndGlyphs" >8</text>
<text x="190.85" y="705.00" font-size="8" fill="#231f20" stroke="#231f20" stroke-width="0.12" text-anchor="middle" textLength="3.90" lengthAdjust="spacingAndGlyphs" >3</text>
<text x="212.90" y="705.00" font-size="8" fill="#231f20" stroke="#231f20" stroke-width="0.12" text-anchor="middle" textLength="3.90" lengthAdjust="spacingAndGlyphs" >0</text>
<text x="283.10" y="205.90" font-size="11.8" fill="#000" textLength="6.00" lengthAdjust="spacingAndGlyphs" font-weight="bold" stroke="#000" stroke-width="0.3">E</text>
<path d="M332.50 209.50 V322.50 H512.50" fill="none" stroke="#231f20" stroke-width="1"/>
<path d="M329.10 322.50 H332.50 M329.10 295.50 H332.50 M329.10 267.50 H332.50 M329.10 240.50 H332.50 M329.10 212.50 H332.50 M332.50 322.50 V325.30 M353.50 322.50 V325.30 M375.50 322.50 V325.30 M396.50 322.50 V325.30 M418.50 322.50 V325.30 M439.50 322.50 V325.30 M461.50 322.50 V325.30 M483.50 322.50 V325.30 M504.50 322.50 V325.30 " stroke="#231f20" stroke-width="0.9"/>
<text x="325.80" y="324.40" font-size="8" fill="#231f20" stroke="#231f20" stroke-width="0.12" text-anchor="end" textLength="3.30" lengthAdjust="spacingAndGlyphs" >0</text>
<text x="325.80" y="296.90" font-size="8" fill="#231f20" stroke="#231f20" stroke-width="0.12" text-anchor="end" textLength="6.60" lengthAdjust="spacingAndGlyphs" >25</text>
<text x="325.80" y="269.40" font-size="8" fill="#231f20" stroke="#231f20" stroke-width="0.12" text-anchor="end" textLength="6.60" lengthAdjust="spacingAndGlyphs" >50</text>
<text x="325.80" y="241.90" font-size="8" fill="#231f20" stroke="#231f20" stroke-width="0.12" text-anchor="end" textLength="6.60" lengthAdjust="spacingAndGlyphs" >75</text>
<text x="325.80" y="214.40" font-size="8" fill="#231f20" stroke="#231f20" stroke-width="0.12" text-anchor="end" textLength="9.90" lengthAdjust="spacingAndGlyphs" >100</text>
<text x="332.10" y="333.10" font-size="8" fill="#231f20" stroke="#231f20" stroke-width="0.12" text-anchor="middle" textLength="3.40" lengthAdjust="spacingAndGlyphs" >0</text>
<text x="353.67" y="333.10" font-size="8" fill="#231f20" stroke="#231f20" stroke-width="0.12" text-anchor="middle" textLength="3.40" lengthAdjust="spacingAndGlyphs" >3</text>
<text x="375.24" y="333.10" font-size="8" fill="#231f20" stroke="#231f20" stroke-width="0.12" text-anchor="middle" textLength="3.40" lengthAdjust="spacingAndGlyphs" >6</text>
<text x="396.81" y="333.10" font-size="8" fill="#231f20" stroke="#231f20" stroke-width="0.12" text-anchor="middle" textLength="3.40" lengthAdjust="spacingAndGlyphs" >9</text>
<text x="418.38" y="333.10" font-size="8" fill="#231f20" stroke="#231f20" stroke-width="0.12" text-anchor="middle" textLength="6.80" lengthAdjust="spacingAndGlyphs" >12</text>
<text x="439.95" y="333.10" font-size="8" fill="#231f20" stroke="#231f20" stroke-width="0.12" text-anchor="middle" textLength="6.80" lengthAdjust="spacingAndGlyphs" >15</text>
<text x="461.52" y="333.10" font-size="8" fill="#231f20" stroke="#231f20" stroke-width="0.12" text-anchor="middle" textLength="6.80" lengthAdjust="spacingAndGlyphs" >18</text>
<text x="483.09" y="333.10" font-size="8" fill="#231f20" stroke="#231f20" stroke-width="0.12" text-anchor="middle" textLength="6.80" lengthAdjust="spacingAndGlyphs" >21</text>
<text x="504.66" y="333.10" font-size="8" fill="#231f20" stroke="#231f20" stroke-width="0.12" text-anchor="middle" textLength="6.80" lengthAdjust="spacingAndGlyphs" >24</text>
<text transform="translate(310.40,265.20) rotate(-90)" font-size="7.8" fill="#231f20" stroke="#231f20" stroke-width="0.12" text-anchor="middle" textLength="59.20" lengthAdjust="spacingAndGlyphs" >Overall survival (%)</text>
<text x="400.50" y="346.40" font-size="9.4" fill="#231f20" stroke="#231f20" stroke-width="0.12" textLength="44.00" lengthAdjust="spacingAndGlyphs" >Time (months)</text>
<path d="M332.50 212.70 H353.00 V215.20 H361.50 V219.30 H393.50 V232.20 H430.70 V250.00 H447.60" fill="none" stroke="#1f4b7a" stroke-width="1.0"/>
<path d="M354.00 213.70 V216.70 M357.00 213.70 V216.70 M359.00 213.70 V216.70 M363.40 217.80 V220.80 M366.20 217.80 V220.80 M369.20 217.80 V220.80 M372.30 217.80 V220.80 M374.60 217.80 V220.80 M380.80 217.80 V220.80 M383.80 217.80 V220.80 M396.60 230.70 V233.70 M401.20 230.70 V233.70 M432.00 248.50 V251.50 M436.00 248.50 V251.50 M444.00 248.50 V251.50 M447.60 248.50 V251.50 " stroke="#12345a" stroke-width="1.1"/>
<path d="M332.50 212.70 H377.80 V215.30 H380.00 V218.00 H382.00 V224.40 H405.50 V228.50 H494.00" fill="none" stroke="#b41f40" stroke-width="1.0"/>
<path d="M346.20 211.20 V214.20 M348.50 211.20 V214.20 M351.50 211.20 V214.20 M376.20 211.20 V214.20 M384.60 222.90 V225.90 M393.50 222.90 V225.90 M404.60 222.90 V225.90 M408.50 227.00 V230.00 M415.40 227.00 V230.00 M432.70 227.00 V230.00 M439.40 227.00 V230.00 M442.30 227.00 V230.00 M447.10 227.00 V230.00 M451.90 227.00 V230.00 M455.80 227.00 V230.00 M457.70 227.00 V230.00 M459.60 227.00 V230.00 M461.50 227.00 V230.00 M465.40 227.00 V230.00 M471.20 227.00 V230.00 M473.10 227.00 V230.00 M476.00 227.00 V230.00 M481.70 227.00 V230.00 M484.60 227.00 V230.00 M493.70 227.00 V230.00 " stroke="#7e1230" stroke-width="1.1"/>
<text x="356.9" y="297.7" font-size="6.6" font-style="italic" fill="#231f20" textLength="4.6" lengthAdjust="spacingAndGlyphs">P</text>
<text x="362.80" y="297.70" font-size="6.6" fill="#231f20" stroke="#231f20" stroke-width="0.12" textLength="3.80" lengthAdjust="spacingAndGlyphs" >=</text>
<text x="368.80" y="297.70" font-size="6.6" fill="#231f20" stroke="#231f20" stroke-width="0.12" textLength="12.40" lengthAdjust="spacingAndGlyphs" >.466</text>
<text x="450.00" y="281.50" font-size="7.5" fill="#231f20" stroke="#231f20" stroke-width="0.12" textLength="55.40" lengthAdjust="spacingAndGlyphs" >Median OS (95% CI)</text>
<text x="403.80" y="291.40" font-size="7.5" fill="#2f63a0" stroke="#2f63a0" stroke-width="0.12" textLength="42.20" lengthAdjust="spacingAndGlyphs" >Chemotherapy</text>
<text x="459.00" y="291.40" font-size="7.5" fill="#231f20" stroke="#231f20" stroke-width="0.12" textLength="40.00" lengthAdjust="spacingAndGlyphs" >NR (13.6, NR)</text>
<text x="430.60" y="300.90" font-size="7.5" fill="#c41f40" stroke="#c41f40" stroke-width="0.12" textLength="15.40" lengthAdjust="spacingAndGlyphs" >HSCT</text>
<text x="461.40" y="300.90" font-size="7.5" fill="#231f20" stroke="#231f20" stroke-width="0.12" textLength="36.30" lengthAdjust="spacingAndGlyphs" >NR (NR, NR)</text>
<text x="330.60" y="357.40" font-size="7.5" fill="#231f20" stroke="#231f20" stroke-width="0.12" textLength="43.20" lengthAdjust="spacingAndGlyphs" >Number at risk</text>
<text x="282.80" y="366.90" font-size="7.5" fill="#2f63a0" stroke="#2f63a0" stroke-width="0.12" textLength="42.90" lengthAdjust="spacingAndGlyphs" >Chemotherapy</text>
<text x="311.00" y="377.00" font-size="7.5" fill="#c41f40" stroke="#c41f40" stroke-width="0.12" textLength="16.30" lengthAdjust="spacingAndGlyphs" >HSCT</text>
<text x="332.30" y="367.00" font-size="8" fill="#231f20" stroke="#231f20" stroke-width="0.12" text-anchor="middle" textLength="7.80" lengthAdjust="spacingAndGlyphs" >42</text>
<text x="353.82" y="367.00" font-size="8" fill="#231f20" stroke="#231f20" stroke-width="0.12" text-anchor="middle" textLength="7.80" lengthAdjust="spacingAndGlyphs" >36</text>
<text x="375.34" y="367.00" font-size="8" fill="#231f20" stroke="#231f20" stroke-width="0.12" text-anchor="middle" textLength="7.80" lengthAdjust="spacingAndGlyphs" >12</text>
<text x="396.86" y="367.00" font-size="8" fill="#231f20" stroke="#231f20" stroke-width="0.12" text-anchor="middle" textLength="3.90" lengthAdjust="spacingAndGlyphs" >6</text>
<text x="418.38" y="367.00" font-size="8" fill="#231f20" stroke="#231f20" stroke-width="0.12" text-anchor="middle" textLength="3.90" lengthAdjust="spacingAndGlyphs" >5</text>
<text x="439.90" y="367.00" font-size="8" fill="#231f20" stroke="#231f20" stroke-width="0.12" text-anchor="middle" textLength="3.90" lengthAdjust="spacingAndGlyphs" >2</text>
<text x="461.42" y="367.00" font-size="8" fill="#231f20" stroke="#231f20" stroke-width="0.12" text-anchor="middle" textLength="3.90" lengthAdjust="spacingAndGlyphs" >0</text>
<text x="482.94" y="367.00" font-size="8" fill="#231f20" stroke="#231f20" stroke-width="0.12" text-anchor="middle" textLength="3.90" lengthAdjust="spacingAndGlyphs" >0</text>
<text x="504.46" y="367.00" font-size="8" fill="#231f20" stroke="#231f20" stroke-width="0.12" text-anchor="middle" textLength="3.90" lengthAdjust="spacingAndGlyphs" >0</text>
<text x="332.30" y="377.10" font-size="8" fill="#231f20" stroke="#231f20" stroke-width="0.12" text-anchor="middle" textLength="3.90" lengthAdjust="spacingAndGlyphs" >0</text>
<text x="353.82" y="377.10" font-size="8" fill="#231f20" stroke="#231f20" stroke-width="0.12" text-anchor="middle" textLength="7.80" lengthAdjust="spacingAndGlyphs" >27</text>
<text x="375.34" y="377.10" font-size="8" fill="#231f20" stroke="#231f20" stroke-width="0.12" text-anchor="middle" textLength="7.80" lengthAdjust="spacingAndGlyphs" >27</text>
<text x="396.86" y="377.10" font-size="8" fill="#231f20" stroke="#231f20" stroke-width="0.12" text-anchor="middle" textLength="7.80" lengthAdjust="spacingAndGlyphs" >26</text>
<text x="418.38" y="377.10" font-size="8" fill="#231f20" stroke="#231f20" stroke-width="0.12" text-anchor="middle" textLength="7.80" lengthAdjust="spacingAndGlyphs" >21</text>
<text x="439.90" y="377.10" font-size="8" fill="#231f20" stroke="#231f20" stroke-width="0.12" text-anchor="middle" textLength="7.80" lengthAdjust="spacingAndGlyphs" >19</text>
<text x="461.42" y="377.10" font-size="8" fill="#231f20" stroke="#231f20" stroke-width="0.12" text-anchor="middle" textLength="7.80" lengthAdjust="spacingAndGlyphs" >10</text>
<text x="482.94" y="377.10" font-size="8" fill="#231f20" stroke="#231f20" stroke-width="0.12" text-anchor="middle" textLength="3.90" lengthAdjust="spacingAndGlyphs" >3</text>
<text x="504.46" y="377.10" font-size="8" fill="#231f20" stroke="#231f20" stroke-width="0.12" text-anchor="middle" textLength="3.90" lengthAdjust="spacingAndGlyphs" >0</text>
<text x="282.80" y="402.90" font-size="11.8" fill="#000" textLength="6.30" lengthAdjust="spacingAndGlyphs" font-weight="bold" stroke="#000" stroke-width="0.3">F</text>
<path d="M332.50 406.80 V524.50 H512.30" fill="none" stroke="#231f20" stroke-width="1"/>
<path d="M329.10 524.50 H332.50 M329.10 495.50 H332.50 M329.10 467.50 H332.50 M329.10 438.50 H332.50 M329.10 409.50 H332.50 M332.50 524.50 V527.30 M353.50 524.50 V527.30 M375.50 524.50 V527.30 M396.50 524.50 V527.30 M418.50 524.50 V527.30 M439.50 524.50 V527.30 M461.50 524.50 V527.30 M483.50 524.50 V527.30 M504.50 524.50 V527.30 " stroke="#231f20" stroke-width="0.9"/>
<text x="325.80" y="526.40" font-size="8" fill="#231f20" stroke="#231f20" stroke-width="0.12" text-anchor="end" textLength="3.30" lengthAdjust="spacingAndGlyphs" >0</text>
<text x="325.80" y="497.72" font-size="8" fill="#231f20" stroke="#231f20" stroke-width="0.12" text-anchor="end" textLength="6.60" lengthAdjust="spacingAndGlyphs" >25</text>
<text x="325.80" y="469.05" font-size="8" fill="#231f20" stroke="#231f20" stroke-width="0.12" text-anchor="end" textLength="6.60" lengthAdjust="spacingAndGlyphs" >50</text>
<text x="325.80" y="440.38" font-size="8" fill="#231f20" stroke="#231f20" stroke-width="0.12" text-anchor="end" textLength="6.60" lengthAdjust="spacingAndGlyphs" >75</text>
<text x="325.80" y="411.70" font-size="8" fill="#231f20" stroke="#231f20" stroke-width="0.12" text-anchor="end" textLength="9.90" lengthAdjust="spacingAndGlyphs" >100</text>
<text x="332.10" y="535.00" font-size="8" fill="#231f20" stroke="#231f20" stroke-width="0.12" text-anchor="middle" textLength="3.40" lengthAdjust="spacingAndGlyphs" >0</text>
<text x="353.67" y="535.00" font-size="8" fill="#231f20" stroke="#231f20" stroke-width="0.12" text-anchor="middle" textLength="3.40" lengthAdjust="spacingAndGlyphs" >3</text>
<text x="375.24" y="535.00" font-size="8" fill="#231f20" stroke="#231f20" stroke-width="0.12" text-anchor="middle" textLength="3.40" lengthAdjust="spacingAndGlyphs" >6</text>
<text x="396.81" y="535.00" font-size="8" fill="#231f20" stroke="#231f20" stroke-width="0.12" text-anchor="middle" textLength="3.40" lengthAdjust="spacingAndGlyphs" >9</text>
<text x="418.38" y="535.00" font-size="8" fill="#231f20" stroke="#231f20" stroke-width="0.12" text-anchor="middle" textLength="6.80" lengthAdjust="spacingAndGlyphs" >12</text>
<text x="439.95" y="535.00" font-size="8" fill="#231f20" stroke="#231f20" stroke-width="0.12" text-anchor="middle" textLength="6.80" lengthAdjust="spacingAndGlyphs" >15</text>
<text x="461.52" y="535.00" font-size="8" fill="#231f20" stroke="#231f20" stroke-width="0.12" text-anchor="middle" textLength="6.80" lengthAdjust="spacingAndGlyphs" >18</text>
<text x="483.09" y="535.00" font-size="8" fill="#231f20" stroke="#231f20" stroke-width="0.12" text-anchor="middle" textLength="6.80" lengthAdjust="spacingAndGlyphs" >21</text>
<text x="504.66" y="535.00" font-size="8" fill="#231f20" stroke="#231f20" stroke-width="0.12" text-anchor="middle" textLength="6.80" lengthAdjust="spacingAndGlyphs" >24</text>
<text transform="translate(310.40,465.20) rotate(-90)" font-size="7.8" fill="#231f20" stroke="#231f20" stroke-width="0.12" text-anchor="middle" textLength="68.40" lengthAdjust="spacingAndGlyphs" >Event-free survival (%)</text>
<text x="400.50" y="547.90" font-size="9.4" fill="#231f20" stroke="#231f20" stroke-width="0.12" textLength="44.00" lengthAdjust="spacingAndGlyphs" >Time (months)</text>
<path d="M332.50 410.10 H344.80 V412.40 H347.50 V414.90 H352.00 V417.80 H353.30 V423.20 H357.00 V427.20 H375.70 V435.30 H378.40 V442.70 H388.70 V454.50 H393.70 V466.20 H396.20 V478.00 H443.75" fill="none" stroke="#1f4b7a" stroke-width="1.0"/>
<path d="M344.80 410.90 V413.90 M349.00 413.40 V416.40 M359.00 425.70 V428.70 M364.30 425.70 V428.70 M367.00 425.70 V428.70 M370.00 425.70 V428.70 M374.40 425.70 V428.70 M381.10 441.20 V444.20 M384.50 441.20 V444.20 M388.00 441.20 V444.20 M401.00 476.50 V479.50 M433.00 476.50 V479.50 M436.00 476.50 V479.50 M443.75 476.50 V479.50 " stroke="#12345a" stroke-width="1.1"/>
<path d="M332.50 410.10 H369.00 V415.10 H382.90 V420.10 H406.25 V425.00 H450.50 V432.00 H493.75" fill="none" stroke="#b41f40" stroke-width="1.0"/>
<path d="M374.40 413.60 V416.60 M376.40 413.60 V416.60 M384.50 418.60 V421.60 M394.60 418.60 V421.60 M408.10 423.50 V426.50 M409.40 423.50 V426.50 M415.50 423.50 V426.50 M432.30 423.50 V426.50 M439.70 423.50 V426.50 M442.40 423.50 V426.50 M446.40 423.50 V426.50 M452.50 430.50 V433.50 M455.20 430.50 V433.50 M459.20 430.50 V433.50 M461.20 430.50 V433.50 M466.00 430.50 V433.50 M472.40 430.50 V433.50 M475.50 430.50 V433.50 M482.10 430.50 V433.50 M484.40 430.50 V433.50 M493.40 430.50 V433.50 " stroke="#7e1230" stroke-width="1.1"/>
<text x="357.9" y="498" font-size="6.6" font-style="italic" fill="#231f20" textLength="4.6" lengthAdjust="spacingAndGlyphs">P</text>
<text x="363.50" y="498.00" font-size="6.6" fill="#231f20" stroke="#231f20" stroke-width="0.12" textLength="3.80" lengthAdjust="spacingAndGlyphs" >=</text>
<text x="369.60" y="498.00" font-size="6.6" fill="#231f20" stroke="#231f20" stroke-width="0.12" textLength="11.60" lengthAdjust="spacingAndGlyphs" >.021</text>
<text x="449.60" y="490.70" font-size="7.5" fill="#231f20" stroke="#231f20" stroke-width="0.12" textLength="60.60" lengthAdjust="spacingAndGlyphs" >Median EFS (95% CI)</text>
<text x="404.80" y="501.00" font-size="7.5" fill="#2f63a0" stroke="#2f63a0" stroke-width="0.12" textLength="42.20" lengthAdjust="spacingAndGlyphs" >Chemotherapy</text>
<text x="462.00" y="501.00" font-size="7.5" fill="#231f20" stroke="#231f20" stroke-width="0.12" textLength="35.70" lengthAdjust="spacingAndGlyphs" >8.8 (7.9, NR)</text>
<text x="431.50" y="511.20" font-size="7.5" fill="#c41f40" stroke="#c41f40" stroke-width="0.12" textLength="15.50" lengthAdjust="spacingAndGlyphs" >HSCT</text>
<text x="461.40" y="511.20" font-size="7.5" fill="#231f20" stroke="#231f20" stroke-width="0.12" textLength="37.20" lengthAdjust="spacingAndGlyphs" >NR (NR, NR)</text>
<text x="330.60" y="558.70" font-size="7.5" fill="#231f20" stroke="#231f20" stroke-width="0.12" textLength="43.20" lengthAdjust="spacingAndGlyphs" >Number at risk</text>
<text x="282.80" y="569.30" font-size="7.5" fill="#2f63a0" stroke="#2f63a0" stroke-width="0.12" textLength="42.90" lengthAdjust="spacingAndGlyphs" >Chemotherapy</text>
<text x="311.00" y="579.10" font-size="7.5" fill="#c41f40" stroke="#c41f40" stroke-width="0.12" textLength="16.30" lengthAdjust="spacingAndGlyphs" >HSCT</text>
<text x="332.30" y="569.40" font-size="8" fill="#231f20" stroke="#231f20" stroke-width="0.12" text-anchor="middle" textLength="7.80" lengthAdjust="spacingAndGlyphs" >42</text>
<text x="353.82" y="569.40" font-size="8" fill="#231f20" stroke="#231f20" stroke-width="0.12" text-anchor="middle" textLength="7.80" lengthAdjust="spacingAndGlyphs" >32</text>
<text x="375.34" y="569.40" font-size="8" fill="#231f20" stroke="#231f20" stroke-width="0.12" text-anchor="middle" textLength="7.80" lengthAdjust="spacingAndGlyphs" >12</text>
<text x="396.86" y="569.40" font-size="8" fill="#231f20" stroke="#231f20" stroke-width="0.12" text-anchor="middle" textLength="3.90" lengthAdjust="spacingAndGlyphs" >4</text>
<text x="418.38" y="569.40" font-size="8" fill="#231f20" stroke="#231f20" stroke-width="0.12" text-anchor="middle" textLength="3.90" lengthAdjust="spacingAndGlyphs" >3</text>
<text x="439.90" y="569.40" font-size="8" fill="#231f20" stroke="#231f20" stroke-width="0.12" text-anchor="middle" textLength="3.90" lengthAdjust="spacingAndGlyphs" >1</text>
<text x="461.42" y="569.40" font-size="8" fill="#231f20" stroke="#231f20" stroke-width="0.12" text-anchor="middle" textLength="3.90" lengthAdjust="spacingAndGlyphs" >0</text>
<text x="482.94" y="569.40" font-size="8" fill="#231f20" stroke="#231f20" stroke-width="0.12" text-anchor="middle" textLength="3.90" lengthAdjust="spacingAndGlyphs" >0</text>
<text x="504.46" y="569.40" font-size="8" fill="#231f20" stroke="#231f20" stroke-width="0.12" text-anchor="middle" textLength="3.90" lengthAdjust="spacingAndGlyphs" >0</text>
<text x="332.30" y="579.20" font-size="8" fill="#231f20" stroke="#231f20" stroke-width="0.12" text-anchor="middle" textLength="3.90" lengthAdjust="spacingAndGlyphs" >0</text>
<text x="353.82" y="579.20" font-size="8" fill="#231f20" stroke="#231f20" stroke-width="0.12" text-anchor="middle" textLength="7.80" lengthAdjust="spacingAndGlyphs" >20</text>
<text x="375.34" y="579.20" font-size="8" fill="#231f20" stroke="#231f20" stroke-width="0.12" text-anchor="middle" textLength="7.80" lengthAdjust="spacingAndGlyphs" >22</text>
<text x="396.86" y="579.20" font-size="8" fill="#231f20" stroke="#231f20" stroke-width="0.12" text-anchor="middle" textLength="7.80" lengthAdjust="spacingAndGlyphs" >22</text>
<text x="418.38" y="579.20" font-size="8" fill="#231f20" stroke="#231f20" stroke-width="0.12" text-anchor="middle" textLength="7.80" lengthAdjust="spacingAndGlyphs" >17</text>
<text x="439.90" y="579.20" font-size="8" fill="#231f20" stroke="#231f20" stroke-width="0.12" text-anchor="middle" textLength="7.80" lengthAdjust="spacingAndGlyphs" >16</text>
<text x="461.42" y="579.20" font-size="8" fill="#231f20" stroke="#231f20" stroke-width="0.12" text-anchor="middle" textLength="3.90" lengthAdjust="spacingAndGlyphs" >7</text>
<text x="482.94" y="579.20" font-size="8" fill="#231f20" stroke="#231f20" stroke-width="0.12" text-anchor="middle" textLength="3.90" lengthAdjust="spacingAndGlyphs" >2</text>
<text x="504.46" y="579.20" font-size="8" fill="#231f20" stroke="#231f20" stroke-width="0.12" text-anchor="middle" textLength="3.90" lengthAdjust="spacingAndGlyphs" >0</text>
<rect x="0.5" y="0.5" width="519" height="712" fill="none" stroke="#4a4a4a" stroke-width="1.2"/>
</svg></body></html>
